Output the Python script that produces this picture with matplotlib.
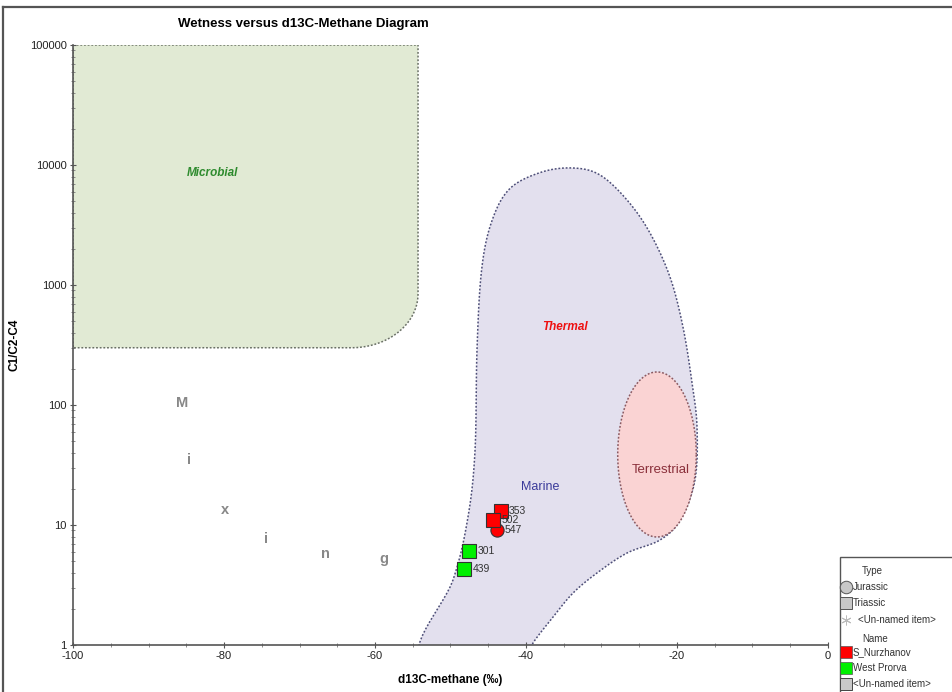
import numpy as np
import matplotlib
matplotlib.use("Agg")
import matplotlib.pyplot as plt
from matplotlib.patches import Polygon, Rectangle
from matplotlib.lines import Line2D

plt.rcParams['font.family'] = ['Liberation Sans', 'DejaVu Sans']

# ---- sample data -------------------------------------------------------
sample_ids = ["353", "502", "547", "301", "439"]
d13c_methane = [-43.35, -44.33, -43.9, -47.55, -48.17]
wetness = [13.1, 11.0, 9.1, 6.07, 4.27]
sample_field = ["S_Nurzhanov", "S_Nurzhanov", "S_Nurzhanov", "West Prorva", "West Prorva"]
sample_type = ["Triassic", "Triassic", "Jurassic", "Triassic", "Triassic"]

field_colors = {"S_Nurzhanov": "#ff0000", "West Prorva": "#00f000"}
type_markers = {"Triassic": "s", "Jurassic": "o"}

# ---- genetic fields (d13C, C1/C2-C4) -------------------------------------
thermal_x = [-53.9, -49.67, -47.68, -46.75, -46.49, -45.9, -44.6, -42.2, -38.0,
             -33.77, -30.2, -26.62, -23.58, -20.93, -19.21, -18.01, -17.35, -17.62,
             -19.6, -22.25, -26.62, -30.6, -33.77, -36.42, -39.07, -39.8]
thermal_y = [0.8, 3.48, 11.7, 42, 287, 1300, 3300, 6300, 8700,
             9441, 8254, 5109, 2713, 1166, 447, 153, 65.6, 23.7,
             11.0, 7.5, 5.84, 3.98, 2.71, 1.71, 1.04, 0.8]

microbial_x = [-100, -54.3]
microbial_y = [300, 100000]

terrestrial_center = (-22.65, 38.7)
terrestrial_half_width = 5.2       # per mil
terrestrial_half_height = 0.6875   # decades

mixing_letters = ["M", "i", "x", "i", "n", "g"]
mixing_x = [-85.5, -84.7, -79.9, -74.4, -66.5, -58.8]
mixing_y = [104, 34.5, 13.3, 7.6, 5.7, 5.2]


def smooth_closed(xs, ys, n=12):
    """Catmull-Rom smoothing of an outline in (x, log10 y) space."""
    p = np.column_stack([xs, np.log10(ys)])
    m = len(p)
    out = []
    for i in range(m):
        p0, p1, p2, p3 = p[(i - 1) % m], p[i], p[(i + 1) % m], p[(i + 2) % m]
        for t in np.linspace(0, 1, n, endpoint=False):
            t2, t3 = t * t, t * t * t
            out.append(0.5 * ((2 * p1) + (-p0 + p2) * t +
                              (2 * p0 - 5 * p1 + 4 * p2 - p3) * t2 +
                              (-p0 + 3 * p1 - 3 * p2 + p3) * t3))
    out = np.array(out)
    return out[:, 0], 10 ** out[:, 1]


def rounded_box(x0, x1, y0, y1, rx=8.8, ry=0.45):
    """Box with rounded lower-right corner (log y axis)."""
    ly0, ly1 = np.log10(y0), np.log10(y1)
    th = np.linspace(0, -np.pi / 2, 30)
    cx, cy = x1 - rx, ly0 + ry
    cxs = cx + rx * np.cos(th)
    cys = cy + ry * np.sin(th)
    xs = np.concatenate([[x0, x1], cxs, [x0]])
    ys = np.concatenate([[ly1, ly1], cys, [ly0]])
    return np.column_stack([xs, 10 ** ys])


fig = plt.figure(figsize=(9.53, 6.92), dpi=100)
ax = fig.add_axes([73 / 953, 47 / 692, 755 / 953, 600 / 692])
ax.set_yscale("log")
ax.set_xlim(-100, 0)
ax.set_ylim(1, 100000)

# Microbial field
mic = Polygon(rounded_box(microbial_x[0], microbial_x[1], microbial_y[0], microbial_y[1]),
              closed=True, facecolor="#e1ead4", edgecolor="#6a7066",
              linestyle=(0, (1.2, 1.2)), linewidth=1.1, zorder=1)
ax.add_patch(mic)

# Thermal field
tx, ty = smooth_closed(thermal_x, thermal_y)
thermal = Polygon(np.column_stack([tx, ty]), closed=True, facecolor="#e3e0ee",
                  edgecolor="#4e4f78", linestyle=(0, (1.2, 1.2)), linewidth=1.1, zorder=1)
ax.add_patch(thermal)

# Terrestrial field
th = np.linspace(0, 2 * np.pi, 200)
ex = terrestrial_center[0] + terrestrial_half_width * np.cos(th)
ey = 10 ** (np.log10(terrestrial_center[1]) + terrestrial_half_height * np.sin(th))
terr = Polygon(np.column_stack([ex, ey]), closed=True, facecolor="#fad3d3",
               edgecolor="#8a5a62", linestyle=(0, (1.2, 1.2)), linewidth=1.1, zorder=2)
ax.add_patch(terr)

# Field labels
ax.text(-81.5, 10 ** 3.93, "Microbial", color="#2e8b2e", fontsize=8.5,
        fontweight="bold", fontstyle="italic", ha="center", va="center", zorder=3)
ax.text(-34.8, 10 ** 2.65, "Thermal", color="#ee1111", fontsize=8.5,
        fontweight="bold", fontstyle="italic", ha="center", va="center", zorder=3)
ax.text(-38.1, 10 ** 1.315, "Marine", color="#3a3a9a", fontsize=9,
        ha="center", va="center", zorder=3)
ax.text(-22.2, 10 ** 1.46, "Terrestrial", color="#8a2f3a", fontsize=9.5,
        ha="center", va="center", zorder=3)
for ch, mx, my in zip(mixing_letters, mixing_x, mixing_y):
    ax.text(mx, my, ch, color="#888888", fontsize=10.5, fontweight="bold",
            ha="center", va="center", zorder=3)

# Samples
order = [2, 0, 1, 3, 4]
for i in order:
    ax.plot(d13c_methane[i], wetness[i], linestyle="none",
            marker=type_markers[sample_type[i]], markersize=9.5,
            markerfacecolor=field_colors[sample_field[i]],
            markeredgecolor="#333333", markeredgewidth=0.8, zorder=5)
for i in range(len(sample_ids)):
    ax.annotate(sample_ids[i], (d13c_methane[i], wetness[i]), xytext=(6, 0),
                textcoords="offset points", fontsize=7.5, color="#333333",
                va="center", ha="left", zorder=6)

# Axes styling
for s in ["top", "right"]:
    ax.spines[s].set_visible(False)
for s in ["left", "bottom"]:
    ax.spines[s].set_color("#555555")
    ax.spines[s].set_linewidth(1.2)
ax.set_xticks(np.arange(-100, 1, 20))
ax.set_xticks(np.arange(-100, 1, 5), minor=True)
ax.set_xticklabels([str(v) for v in range(-100, 1, 20)])
ax.set_yticks([1, 10, 100, 1000, 10000, 100000])
ax.set_yticklabels(["1", "10", "100", "1000", "10000", "100000"])
ax.tick_params(axis="both", which="major", direction="inout", length=5,
               width=0.8, color="#555555", labelsize=8, labelcolor="#222222", pad=2)
ax.tick_params(axis="both", which="minor", direction="inout", length=3,
               width=0.6, color="#777777")
ax.set_xlabel("d13C-methane (‰)", fontsize=8.5, fontweight="bold", labelpad=9)
ax.set_ylabel("C1/C2-C4", fontsize=8.5, fontweight="bold")
ax.yaxis.set_label_coords(-(73 - 21) / 755, 0.5)
ax.set_title("Wetness versus d13C-Methane Diagram", fontsize=9.5,
             fontweight="bold", pad=13, x=0.305)

# Figure frame (top and left edges)
fig.add_artist(Line2D([3 / 953, 3 / 953], [0, 685 / 692], transform=fig.transFigure,
                      color="#555555", linewidth=1.6))
fig.add_artist(Line2D([3 / 953, 1], [685 / 692, 685 / 692], transform=fig.transFigure,
                      color="#555555", linewidth=1.6))

# Legend panel
lax = fig.add_axes([836 / 953, 0, 117 / 953, 137 / 692])
lax.set_xlim(836, 953)
lax.set_ylim(692, 555)
lax.axis("off")
lax.add_patch(Rectangle((840, 557), 130, 150, facecolor="white",
                        edgecolor="#555555", linewidth=1.0))
lfs = 7
lax.text(862, 571, "Type", fontsize=lfs, color="#333333", va="center")
lax.plot(846.5, 587, "o", markersize=9, markerfacecolor="#c8c8c8", markeredgecolor="#555555",
         markeredgewidth=0.7)
lax.text(853, 587, "Jurassic", fontsize=lfs, color="#333333", va="center")
lax.plot(846.5, 603, "s", markersize=9, markerfacecolor="#c8c8c8", markeredgecolor="#555555",
         markeredgewidth=0.7)
lax.text(853, 603, "Triassic", fontsize=lfs, color="#333333", va="center")
lax.plot(846.5, 620, marker=(6, 2, 0), markersize=7, color="#bbbbbb", markeredgewidth=0.7)
lax.text(858, 620, "<Un-named item>", fontsize=lfs, color="#333333", va="center")
lax.text(862, 639, "Name", fontsize=lfs, color="#333333", va="center")
lax.plot(846.5, 652, "s", markersize=8, markerfacecolor="#ff0000", markeredgecolor="#555555",
         markeredgewidth=0.5)
lax.text(853, 652, "S_Nurzhanov", fontsize=lfs, color="#333333", va="center")
lax.plot(846.5, 668, "s", markersize=8, markerfacecolor="#00f000", markeredgecolor="#555555",
         markeredgewidth=0.5)
lax.text(853, 668, "West Prorva", fontsize=lfs, color="#333333", va="center")
lax.plot(846.5, 684, "s", markersize=8, markerfacecolor="#c8c8c8", markeredgecolor="#444444",
         markeredgewidth=0.7)
lax.text(853, 684, "<Un-named item>", fontsize=lfs, color="#333333", va="center")

fig.savefig("out.png", dpi=100)
